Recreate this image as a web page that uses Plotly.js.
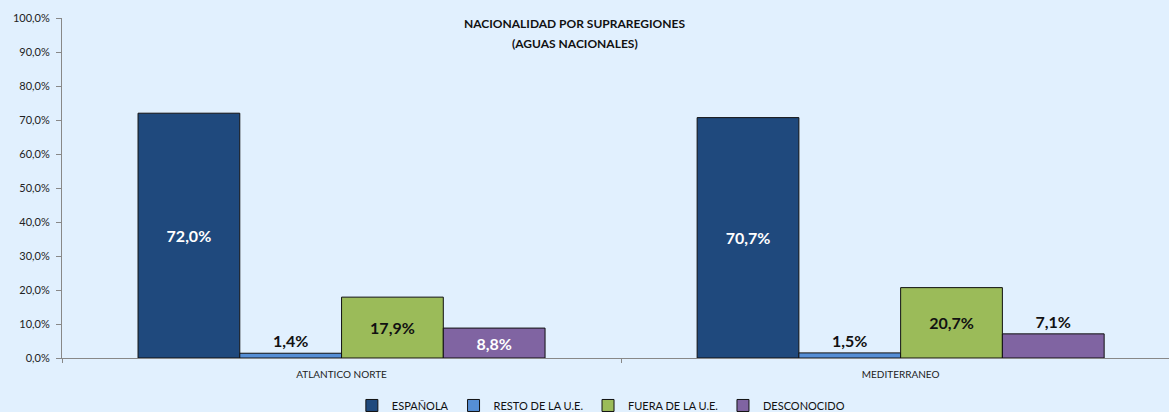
<!DOCTYPE html>
<html><head><meta charset="utf-8">
<script src="https://cdn.plot.ly/plotly-3.0.1.min.js"></script>
<style>html,body{margin:0;padding:0;background:#E1F0FE;}#chart{width:1169px;height:412px;}</style>
</head><body><div id="chart"></div>
<script>
const categories = ['ATLANTICO NORTE', 'MEDITERRANEO'];
const seriesNames = ['ESPAÑOLA', 'RESTO DE LA U.E.', 'FUERA DE LA U.E.', 'DESCONOCIDO'];
const espanola = [72.0, 70.7];
const restoUE = [1.4, 1.5];
const fueraUE = [17.9, 20.7];
const desconocido = [8.8, 7.1];
const colors = ['#1F497D', '#558ED5', '#9BBB59', '#8064A2'];
const titleLines = ['NACIONALIDAD POR SUPRAREGIONES', '(AGUAS NACIONALES)'];

const values = [espanola, restoUE, fueraUE, desconocido];
const textPos = [
  ['inside', 'inside'],
  ['outside', 'outside'],
  ['inside', 'inside'],
  ['inside', 'outside']
];
const textCol = [
  ['#FFFFFF', '#FFFFFF'],
  ['#111111', '#111111'],
  ['#111111', '#111111'],
  ['#FFFFFF', '#111111']
];

const traces = values.map((v, i) => ({
  type: 'bar',
  name: seriesNames[i],
  x: categories,
  y: v,
  marker: {color: colors[i], line: {color: '#111111', width: 1}},
  texttemplate: '%{y:.1f}%',
  textposition: textPos[i],
  insidetextanchor: 'middle',
  textangle: 0,
  constraintext: 'none',
  cliponaxis: false,
  textfont: {family: 'Lato, sans-serif', size: 16, color: textCol[i], weight: 'bold'},
  hoverinfo: 'skip'
}));

const titleY = [0.985, 0.926];
const layout = {
  width: 1169, height: 412,
  paper_bgcolor: '#E1F0FE',
  plot_bgcolor: '#E1F0FE',
  separators: ',.',
  margin: {l: 62, r: 0, t: 18, b: 54, autoexpand: false},
  barmode: 'group',
  bargap: 0.272,
  bargroupgap: 0,
  font: {family: 'Lato, sans-serif', size: 10, color: '#222222'},
  annotations: titleLines.map((t, i) => ({
    text: '<b>' + t + '</b>',
    font: {family: 'Lato, sans-serif', size: 12, color: '#111111'},
    xref: 'paper', x: 0.4634, xanchor: 'center',
    yref: 'paper', y: titleY[i], yanchor: 'middle',
    showarrow: false, align: 'center'
  })),
  xaxis: {
    range: [-0.5, 1.48],
    showline: true, linecolor: '#888888', linewidth: 1,
    ticks: 'outside', tickson: 'boundaries', ticklen: 4, tickcolor: '#888888',
    tickfont: {size: 10, color: '#222222'},
    ticklabelstandoff: 7,
    showgrid: false, zeroline: false, fixedrange: true
  },
  yaxis: {
    range: [0, 100],
    dtick: 10,
    tickformat: '.1f', ticksuffix: '%',
    showline: true, linecolor: '#888888', linewidth: 1,
    ticks: 'outside', ticklen: 5, tickcolor: '#888888',
    tickfont: {size: 11, color: '#222222'},
    ticklabelstandoff: 4,
    showgrid: false, zeroline: false, fixedrange: true
  },
  showlegend: true,
  legend: {
    orientation: 'h', xref: 'container', x: 0.514, xanchor: 'center',
    yref: 'paper', y: -0.097, yanchor: 'top',
    font: {size: 11, color: '#111111'},
    bgcolor: 'rgba(0,0,0,0)', itemwidth: 30, tracegroupgap: 0
  }
};

Plotly.newPlot('chart', traces, layout, {displayModeBar: false, staticPlot: true});
</script></body></html>
